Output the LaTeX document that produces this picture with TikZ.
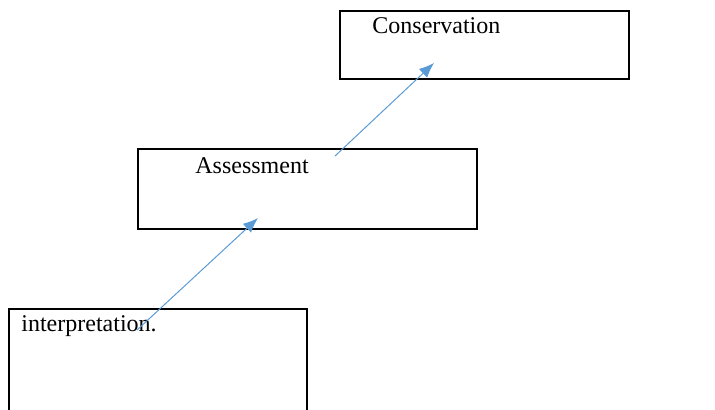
\documentclass[tikz,border=0pt]{standalone}
\usepackage{fontspec}
\setmainfont{Liberation Serif}
\usetikzlibrary{arrows.meta}
\definecolor{arrowblue}{RGB}{91,155,213}
\tikzset{
  stage/.style     = {shape=rectangle, draw, line width=1pt,
                      inner sep=0pt, anchor=north west},
  stagetext/.style = {anchor=base west, inner sep=0pt,
                      font=\fontsize{12}{14}\selectfont},
  flow/.style      = {draw, line width=0.5pt, arrowblue,
                      -{Latex[length=7.5pt, width=6pt]}}
}

\begin{document}
\begin{tikzpicture}
  [
  x = 0.5pt, y = -0.5pt
  ]
  \useasboundingbox (0,0) rectangle (715,409);

  % boxes
  \node[stage, minimum width=144.5pt, minimum height=34pt] (consbox) at (339,10) {};
  \node[stage, minimum width=169.5pt, minimum height=40pt] (assessbox) at (137,148) {};
  \node[stage, minimum width=149pt, minimum height=56pt] (interpbox) at (8,308) {};

  % texts
  \node[stagetext] (cons) at (372,33) {Conservation};
  \node[stagetext] (assess) at (195,173) {Assessment};
  \node[stagetext] (interp) at (21,331) {interpretation.};

  % arrows
  \coordinate (interpout) at (137,330);
  \coordinate (assessin) at (258,218);
  \coordinate (assessout) at (335,156);
  \coordinate (consin) at (434,63);
  \draw[flow] (interpout) -- (assessin);
  \draw[flow] (assessout) -- (consin);
\end{tikzpicture}
\end{document}
